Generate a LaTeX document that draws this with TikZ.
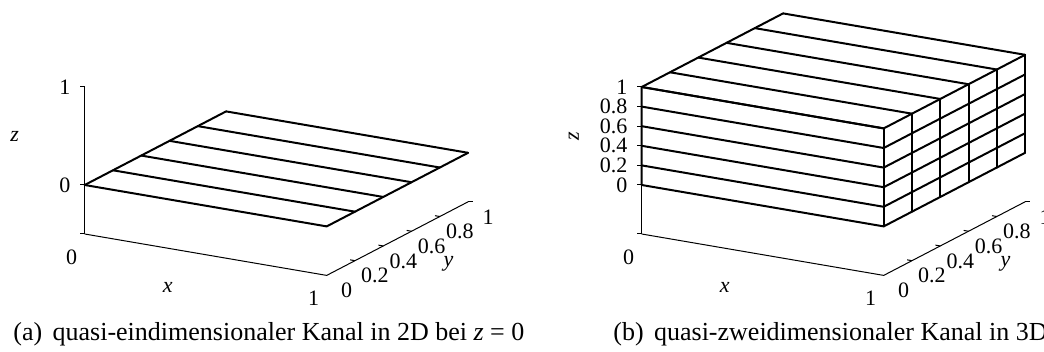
\documentclass[tikz,border=0pt]{standalone}
\usepackage{fontspec}
\setmainfont{Liberation Serif}
\usetikzlibrary{positioning}

\begin{document}
\begin{tikzpicture}[
    x=0.5pt,y=-0.5pt,
    gitter/.style = {black, line width=1pt, line cap=round},
    achse/.style  = {black, line width=0.5pt},
    tlab/.style   = {font=\fontsize{11}{12}\selectfont, inner sep=0pt},
    alab/.style   = {font=\fontsize{11}{12}\selectfont\itshape, inner sep=0pt},
    zlab/.style   = {tlab, anchor=east, xshift=-7pt},
    xlab/.style   = {tlab, xshift=-6.5pt, yshift=-11.5pt},
    ylab/.style   = {tlab, xshift=10pt, yshift=-7.5pt},
    capt/.style   = {font=\fontsize{13}{15}\selectfont, anchor=base west, inner sep=0pt},
    raum/.style   = {x={(121pt,-20.7pt)}, y={(70.7pt,36.8pt)}, z={(0pt,49pt)}},
  ]
  \useasboundingbox (0,0) rectangle (1044,352);

  % -- (a) Kanal in 2D --------------------------------------------------
  \begin{scope}[shift={(84.7,185)}, raum]
    % Achsen
    \draw[achse] (0,0,-0.5) -- (0,0,1);
    \draw[achse] (0,0,-0.5) -- (1,0,-0.5) -- (1,1,-0.5);
    \foreach \z in {-0.5,0,1} \draw[achse] (0,0,\z) -- ++(-2.5pt,0);
    \foreach \k in {1,...,4} \draw[achse] (1,\k/5,-0.5) -- ++(-0.02,0,0);
    \draw[achse] (1,1,-0.5) -- ++(2.5pt,0);
    % Flaeche bei z=0
    \foreach \k in {0,...,5} \draw[gitter] (0,\k/5,0) -- (1,\k/5,0);
    \draw[gitter] (0,0,0) -- (0,1,0) (1,0,0) -- (1,1,0);
    % Beschriftung
    \node[zlab] (az1) at (0,0,1) {1};
    \node[zlab] (az0) at (0,0,0) {0};
    \node[alab, xshift=-35pt] (azl) at (0,0,0.5) {z};
    \node[xlab] (ax0) at (0,0,-0.5) {0};
    \node[xlab] (ax1) at (1,0,-0.5) {1};
    \node[alab, xshift=-19pt, yshift=-16.5pt] (axl) at (0.5,0,-0.5) {x};
    \foreach \k/\t in {0/0,1/0.2,2/0.4,3/0.6,4/0.8,5/1}
      \node[ylab] (ay\k) at (1,\k/5,-0.5) {\t};
    \node[alab, xshift=25.5pt, yshift=-12.5pt] (ayl) at (1,0.5,-0.5) {y};
  \end{scope}

  % -- (b) Kanal in 3D --------------------------------------------------
  \begin{scope}[shift={(641.7,185)}, raum]
    % Achsen
    \draw[achse] (0,0,-0.5) -- (0,0,1);
    \draw[achse] (0,0,-0.5) -- (1,0,-0.5) -- (1,1,-0.5);
    \draw[achse] (0,0,-0.5) -- ++(-2.5pt,0);
    \foreach \k in {0,...,5} \draw[achse] (0,0,\k/5) -- ++(-2.5pt,0);
    \foreach \k in {1,...,4} \draw[achse] (1,\k/5,-0.5) -- ++(-0.02,0,0);
    \draw[achse] (1,1,-0.5) -- ++(2.5pt,0);
    % Quader: Deckflaeche, Vorderseite, rechte Seite
    \foreach \k in {0,...,5} {
      \draw[gitter] (0,\k/5,1) -- (1,\k/5,1);
      \draw[gitter] (0,0,\k/5) -- (1,0,\k/5) -- (1,1,\k/5);
      \draw[gitter] (1,\k/5,0) -- (1,\k/5,1);
    }
    \draw[gitter] (0,0,1) -- (0,1,1) (0,0,0) -- (0,0,1);
    % Beschriftung
    \foreach \k/\t in {0/0,1/0.2,2/0.4,3/0.6,4/0.8,5/1}
      \node[zlab] (bz\k) at (0,0,\k/5) {\t};
    \node[alab, xshift=-34pt, rotate=90] (bzl) at (0,0,0.5) {z};
    \node[xlab] (bx0) at (0,0,-0.5) {0};
    \node[xlab] (bx1) at (1,0,-0.5) {1};
    \node[alab, xshift=-19pt, yshift=-16.5pt] (bxl) at (0.5,0,-0.5) {x};
    \foreach \k/\t in {0/0,1/0.2,2/0.4,3/0.6,4/0.8,5/1}
      \node[ylab] (by\k) at (1,\k/5,-0.5) {\t};
    \node[alab, xshift=25.5pt, yshift=-12.5pt] (byl) at (1,0.5,-0.5) {y};
  \end{scope}

  % -- Unterschriften ---------------------------------------------------
  \node[capt] (capa) at (13,341)
       {(a)\hspace{0.4em}quasi-eindimensionaler Kanal in 2D bei \textit{z} = 0};
  \node[capt] (capb) at (613,341)
       {(b)\hspace{0.4em}quasi-zweidimensionaler Kanal in 3D};
\end{tikzpicture}
\end{document}
